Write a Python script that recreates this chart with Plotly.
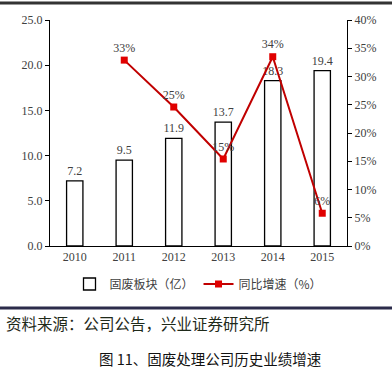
import plotly.graph_objects as go

years = ["2010", "2011", "2012", "2013", "2014", "2015"]
revenue = [7.2, 9.5, 11.9, 13.7, 18.3, 19.4]
growth_years = ["2011", "2012", "2013", "2014", "2015"]
growth = [0.329, 0.246, 0.154, 0.335, 0.058]
left_ticks = [0, 5, 10, 15, 20, 25]
right_ticks = [0, 0.05, 0.10, 0.15, 0.20, 0.25, 0.30, 0.35, 0.40]

W, H = 392, 372
L, R, T, B = 50, 45, 20, 126
pw, ph = W - L - R, H - T - B

def px(x):
    return (x - L) / pw

def py(y):
    return (H - B - y) / ph

serif = "Liberation Serif, Times New Roman, serif"
cjk = "Noto Sans CJK SC, sans-serif"

fig = go.Figure()
fig.add_trace(go.Bar(
    x=years, y=revenue, name="固废板块（亿）",
    marker=dict(color="white", line=dict(color="black", width=1.3)),
    width=0.33,
    text=[f"{v:.1f}" for v in revenue], textposition="outside",
    constraintext="none",
    textfont=dict(family=serif, size=12, color="#404040"),
    cliponaxis=False,
))
fig.add_trace(go.Scatter(
    x=growth_years, y=growth, name="同比增速（%）", yaxis="y2",
    mode="lines+markers+text",
    line=dict(color="#C00000", width=2),
    marker=dict(symbol="square", size=7, color="#E00000"),
    text=[f"{round(v*100):.0f}%" for v in growth], textposition="top center",
    textfont=dict(family=serif, size=12, color="#404040"),
    cliponaxis=False,
))

fig.update_layout(
    width=W, height=H,
    margin=dict(l=L, r=R, t=T, b=B, autoexpand=False),
    paper_bgcolor="white", plot_bgcolor="white",
    showlegend=True,
    legend=dict(orientation="h", x=0.5, xanchor="center", y=py(284), yanchor="middle",
                font=dict(family=cjk, size=12, color="#404040"),
                traceorder="normal"),
    xaxis=dict(showline=True, linecolor="black", linewidth=1, ticks="",
               tickfont=dict(family=serif, size=12, color="#404040"), showgrid=False),
    yaxis=dict(range=[0, 25], tickvals=left_ticks, tickformat=".1f",
               showline=True, linecolor="black", linewidth=1,
               ticks="outside", ticklen=4, tickcolor="black",
               tickfont=dict(family=serif, size=12, color="#404040"),
               showgrid=False, zeroline=False),
    yaxis2=dict(range=[0, 0.40], tickvals=right_ticks, tickformat=".0%",
                overlaying="y", side="right",
                showline=True, linecolor="black", linewidth=1,
                ticks="outside", ticklen=4, tickcolor="black",
                tickfont=dict(family=serif, size=12, color="#404040"),
                showgrid=False, zeroline=False),
    shapes=[
        dict(type="line", xref="paper", yref="paper", x0=px(0), x1=px(W), y0=py(3), y1=py(3),
             line=dict(color="#333333", width=3)),
        dict(type="line", xref="paper", yref="paper", x0=px(0), x1=px(W), y0=py(308), y1=py(308),
             line=dict(color="#2b2b4a", width=3)),
    ],
    annotations=[
        dict(xref="paper", yref="paper", x=px(4), y=py(323), xanchor="left", yanchor="middle",
             text="资料来源：公司公告，兴业证券研究所", showarrow=False,
             font=dict(family=cjk, size=15.5, color="#1f2a1a")),
        dict(xref="paper", yref="paper", x=px(210), y=py(358), xanchor="center", yanchor="middle",
             text="图 11、固废处理公司历史业绩增速", showarrow=False,
             font=dict(family=cjk, size=14.5, color="#111111")),
    ],
)

fig.write_html("out.html", config={"displayModeBar": False},
               post_script="document.body.style.margin='0';document.body.style.overflow='hidden';")
